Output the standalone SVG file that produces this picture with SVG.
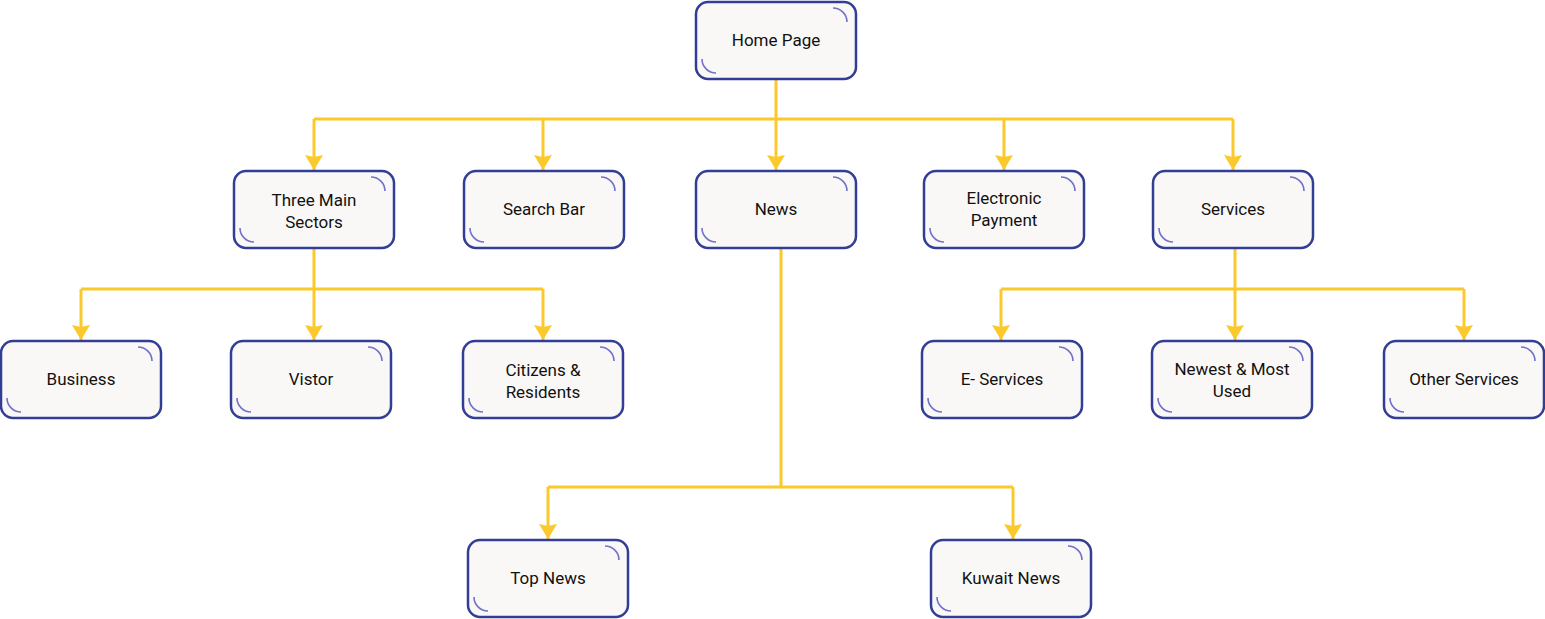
<svg xmlns="http://www.w3.org/2000/svg" width="1545" height="619" viewBox="0 0 1545 619">
<style>
.box{fill:#faf8f6;stroke:#323d96;stroke-width:2.5}
.arc{fill:none;stroke:#6f72c9;stroke-width:1.6}
.lbl{font-family:Roboto,"Liberation Sans",sans-serif;font-size:17px;fill:#111;text-anchor:middle;dominant-baseline:central}
.cn{fill:none;stroke:#fcc92c;stroke-width:3}
</style>
<defs>
<marker id="ah" markerUnits="userSpaceOnUse" markerWidth="16" markerHeight="18" viewBox="0 0 16 18" refX="15" refY="9" orient="auto">
<path d="M0,0 L15,9 L0,18 L2,9 Z" fill="#fcc92c"/>
</marker>
<g id="deco">
<rect class="box" x="0" y="0" width="160" height="77" rx="12"/>
<path class="arc" d="M137 6 A14 14 0 0 1 151 20"/>
<path class="arc" d="M6 57 A14 14 0 0 0 20 71"/>
</g>
</defs>
<g id="connectors">
<path class="cn" d="M776 79 V119 M314 119 H1233"/>
<path class="cn" d="M314 119 V170" marker-end="url(#ah)"/>
<path class="cn" d="M543 119 V170" marker-end="url(#ah)"/>
<path class="cn" d="M776 119 V170" marker-end="url(#ah)"/>
<path class="cn" d="M1004 119 V170" marker-end="url(#ah)"/>
<path class="cn" d="M1233 119 V170" marker-end="url(#ah)"/>
<path class="cn" d="M314 249 V289 M81 289 H543"/>
<path class="cn" d="M81 289 V340" marker-end="url(#ah)"/>
<path class="cn" d="M314 289 V340" marker-end="url(#ah)"/>
<path class="cn" d="M543 289 V340" marker-end="url(#ah)"/>
<path class="cn" d="M1235 249 V289 M1001 289 H1464"/>
<path class="cn" d="M1001 289 V340" marker-end="url(#ah)"/>
<path class="cn" d="M1235 289 V340" marker-end="url(#ah)"/>
<path class="cn" d="M1464 289 V340" marker-end="url(#ah)"/>
<path class="cn" d="M781 249 V487 M548 487 H1013"/>
<path class="cn" d="M548 487 V539" marker-end="url(#ah)"/>
<path class="cn" d="M1013 487 V539" marker-end="url(#ah)"/>
</g>
<g id="home-page" transform="translate(696,2)"><use href="#deco"/><text class="lbl" x="80" y="37.5">Home Page</text></g>
<g id="three-main-sectors" transform="translate(234,171)"><use href="#deco"/><text class="lbl" x="80" y="28.5">Three Main</text><text class="lbl" x="80" y="50.5">Sectors</text></g>
<g id="search-bar" transform="translate(464,171)"><use href="#deco"/><text class="lbl" x="80" y="37.5">Search Bar</text></g>
<g id="news" transform="translate(696,171)"><use href="#deco"/><text class="lbl" x="80" y="37.5">News</text></g>
<g id="electronic-payment" transform="translate(924,171)"><use href="#deco"/><text class="lbl" x="80" y="26.5">Electronic</text><text class="lbl" x="80" y="48.5">Payment</text></g>
<g id="services" transform="translate(1153,171)"><use href="#deco"/><text class="lbl" x="80" y="37.5">Services</text></g>
<g id="business" transform="translate(1,341)"><use href="#deco"/><text class="lbl" x="80" y="37.5">Business</text></g>
<g id="vistor" transform="translate(231,341)"><use href="#deco"/><text class="lbl" x="80" y="37.5">Vistor</text></g>
<g id="citizens-residents" transform="translate(463,341)"><use href="#deco"/><text class="lbl" x="80" y="28.5">Citizens &amp;</text><text class="lbl" x="80" y="50.5">Residents</text></g>
<g id="e-services" transform="translate(922,341)"><use href="#deco"/><text class="lbl" x="80" y="37.5">E- Services</text></g>
<g id="newest-most-used" transform="translate(1152,341)"><use href="#deco"/><text class="lbl" x="80" y="27.5">Newest &amp; Most</text><text class="lbl" x="80" y="49.5">Used</text></g>
<g id="other-services" transform="translate(1384,341)"><use href="#deco"/><text class="lbl" x="80" y="37.5">Other Services</text></g>
<g id="top-news" transform="translate(468,540)"><use href="#deco"/><text class="lbl" x="80" y="37.5">Top News</text></g>
<g id="kuwait-news" transform="translate(931,540)"><use href="#deco"/><text class="lbl" x="80" y="37.5">Kuwait News</text></g>
</svg>
